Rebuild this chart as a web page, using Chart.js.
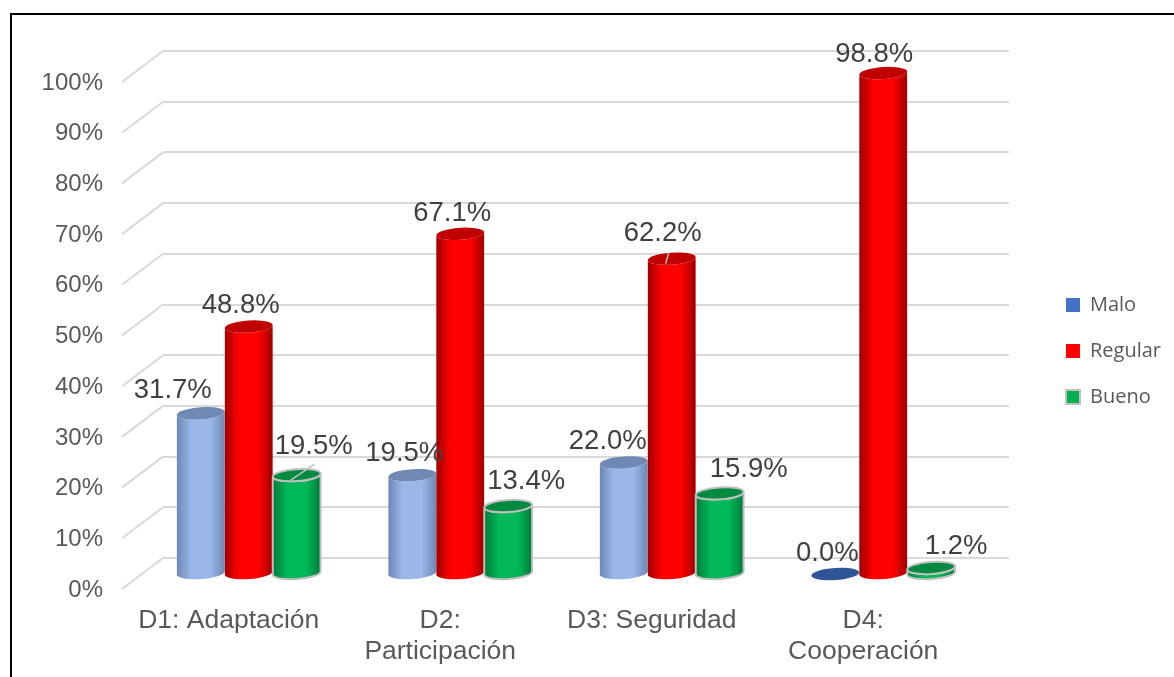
<!DOCTYPE html>
<html>
<head>
<meta charset="utf-8">
<title>Dimensiones</title>
<script src="https://cdn.jsdelivr.net/npm/chart.js@4"></script>
<style>
    body { margin: 0; background: #fff; }
    #wrap { position: relative; width: 1174px; height: 677px; overflow: hidden; }
    #frame { position: absolute; left: 10px; top: 13px; width: 1200px; height: 700px; border: 2px solid #000; }
    canvas { position: absolute; left: 0; top: 0; }
</style>
</head>
<body>
<div id="wrap">
    <div id="frame"></div>
    <canvas id="chart" width="1174" height="677"></canvas>
</div>
<script>
// Chart values
const categories = ['D1: Adaptación', ['D2:', 'Participación'], 'D3: Seguridad', ['D4:', 'Cooperación']];
const malo = [31.7, 19.5, 22.0, 0.0];
const regular = [48.8, 67.1, 62.2, 98.8];
const bueno = [19.5, 13.4, 15.9, 1.2];

// The bars stand in front of the back wall, this is the depth of the 3D box
const depthX = -20;
const depthY = 16;
const wallX = -41;
const wallY = 31;

// Colours of the cylinders, one per series
const cylinderStyles = [
    { edge: '#6d88b6', middle: '#9bb7e8', top: '#6f89b4', flat: '#2f5597', rim: null },
    { edge: '#a00000', middle: '#ff0000', top: '#c00000', flat: '#c00000', rim: null },
    { edge: '#007a3a', middle: '#00b858', top: '#008a40', flat: '#008a40', rim: '#bfbfbf' }
];

// Where each value label sits, relative to the top of its cylinder
const labelShift = [
    [[-28, -23], [-8, -22], [-16, -21], [-8, -21]],
    [[-8, -21], [-8, -20], [-9, -25], [-9, -19]],
    [[17, -29], [18, -25], [29, -24], [25, -21]]
];
// Leader lines for the labels moved away from their bar
const leaders = [
    { series: 2, index: 0, dx: 24, dy: -16 },
    { series: 1, index: 2, dx: 3, dy: -11 }
];

function drawCylinder(ctx, el, style) {
    const x = el.x + depthX;
    const top = el.y + depthY;
    const base = el.base + depthY;
    const rx = el.width / 2;
    const ry = 6;
    const tilt = -0.07;

    if (base - top < 1) {
        ctx.fillStyle = style.flat;
        ctx.beginPath();
        ctx.ellipse(x, base, rx, ry, tilt, 0, Math.PI * 2);
        ctx.fill();
        return;
    }

    const grad = ctx.createLinearGradient(x - rx, 0, x + rx, 0);
    grad.addColorStop(0, style.edge);
    grad.addColorStop(0.3, style.middle);
    grad.addColorStop(0.7, style.middle);
    grad.addColorStop(1, style.edge);

    ctx.beginPath();
    ctx.ellipse(x, top, rx, ry, tilt, Math.PI, 0, true);
    ctx.ellipse(x, base, rx, ry, tilt, 0, Math.PI);
    ctx.closePath();
    ctx.fillStyle = grad;
    ctx.fill();
    if (style.rim) {
        ctx.strokeStyle = style.rim;
        ctx.lineWidth = 2;
        ctx.stroke();
    }

    ctx.beginPath();
    ctx.ellipse(x, top, rx, ry, tilt, 0, Math.PI * 2);
    ctx.fillStyle = style.top;
    ctx.fill();
    if (style.rim) {
        ctx.strokeStyle = style.rim;
        ctx.lineWidth = 2;
        ctx.stroke();
    }
}

const cylinderPlugin = {
    id: 'cylinders',
    afterLayout(chart) {
        // move the legend away from the plot
        chart.legend.left += 31;
        chart.legend.right += 31;
        chart.legend.top -= 13;
        chart.legend.bottom -= 13;
    },
    beforeDatasetsDraw(chart) {
        const ctx = chart.ctx;
        const area = chart.chartArea;
        const yScale = chart.scales.y;

        // left wall of the 3D box
        ctx.save();
        ctx.strokeStyle = '#d9d9d9';
        ctx.lineWidth = 2;
        yScale.ticks.forEach(tick => {
            const y = yScale.getPixelForValue(tick.value);
            ctx.beginPath();
            ctx.moveTo(area.left, y);
            ctx.lineTo(area.left + wallX, y + wallY);
            ctx.stroke();
        });

        categories.forEach((cat, i) => {
            chart.data.datasets.forEach((ds, s) => {
                drawCylinder(ctx, chart.getDatasetMeta(s).data[i], cylinderStyles[s]);
            });
        });
        ctx.restore();
        return false; // the cylinders replace the flat bars
    },
    afterDraw(chart) {
        const ctx = chart.ctx;
        ctx.save();

        ctx.strokeStyle = '#bfbfbf';
        ctx.lineWidth = 1.5;
        leaders.forEach(l => {
            const el = chart.getDatasetMeta(l.series).data[l.index];
            const x = el.x + depthX;
            const y = el.y + depthY + 5;
            ctx.beginPath();
            ctx.moveTo(x - 6, y);
            ctx.lineTo(x - 6 + l.dx, y + l.dy);
            ctx.stroke();
        });

        ctx.font = '27.5px "Liberation Sans", Arial, sans-serif';
        ctx.fillStyle = '#404040';
        ctx.textAlign = 'center';
        ctx.textBaseline = 'middle';
        chart.data.datasets.forEach((ds, s) => {
            ds.data.forEach((value, i) => {
                const el = chart.getDatasetMeta(s).data[i];
                const shift = labelShift[s][i];
                ctx.fillText(value.toFixed(1) + '%', el.x + depthX + shift[0], el.y + depthY + shift[1]);
            });
        });
        ctx.restore();
    }
};

new Chart(document.getElementById('chart').getContext('2d'), {
    type: 'bar',
    data: {
        labels: categories,
        datasets: [
            { label: 'Malo', data: malo, backgroundColor: '#4472c4', borderWidth: 0 },
            { label: 'Regular', data: regular, backgroundColor: '#ff0000', borderWidth: 0 },
            { label: 'Bueno', data: bueno, backgroundColor: '#00b050', borderColor: '#bfbfbf', borderWidth: 2 }
        ]
    },
    options: {
        responsive: false,
        animation: false,
        events: [],
        layout: { padding: { top: 51, right: 34, left: 0, bottom: 0 } },
        datasets: { bar: { categoryPercentage: 0.68, barPercentage: 1 } },
        scales: {
            x: {
                grid: { display: false },
                border: { display: false },
                afterFit(scale) { scale.height = 119; },
                ticks: {
                    autoSkip: false,
                    maxRotation: 0,
                    padding: 39,
                    labelOffset: -40,
                    color: '#595959',
                    font: { family: '"Liberation Sans", Arial, sans-serif', size: 26.5, lineHeight: 1.17 }
                }
            },
            y: {
                min: 0,
                max: 100,
                grid: { color: '#d9d9d9', lineWidth: 2, drawTicks: false },
                border: { display: false },
                afterFit(scale) {
                    // tick padding would otherwise push the plot down from the top
                    scale.width = 163;
                    scale.paddingTop = 0;
                    scale.paddingBottom = 0;
                },
                ticks: {
                    stepSize: 10,
                    padding: 60,
                    labelOffset: 32,
                    color: '#595959',
                    font: { family: '"Liberation Sans", Arial, sans-serif', size: 24 },
                    callback: value => value + '%'
                }
            }
        },
        plugins: {
            tooltip: { enabled: false },
            legend: {
                position: 'right',
                labels: {
                    boxWidth: 14,
                    boxHeight: 14,
                    padding: 26,
                    color: '#595959',
                    font: { family: '"Open Sans", sans-serif', size: 20 }
                }
            }
        }
    },
    plugins: [cylinderPlugin]
});
</script>
</body>
</html>
